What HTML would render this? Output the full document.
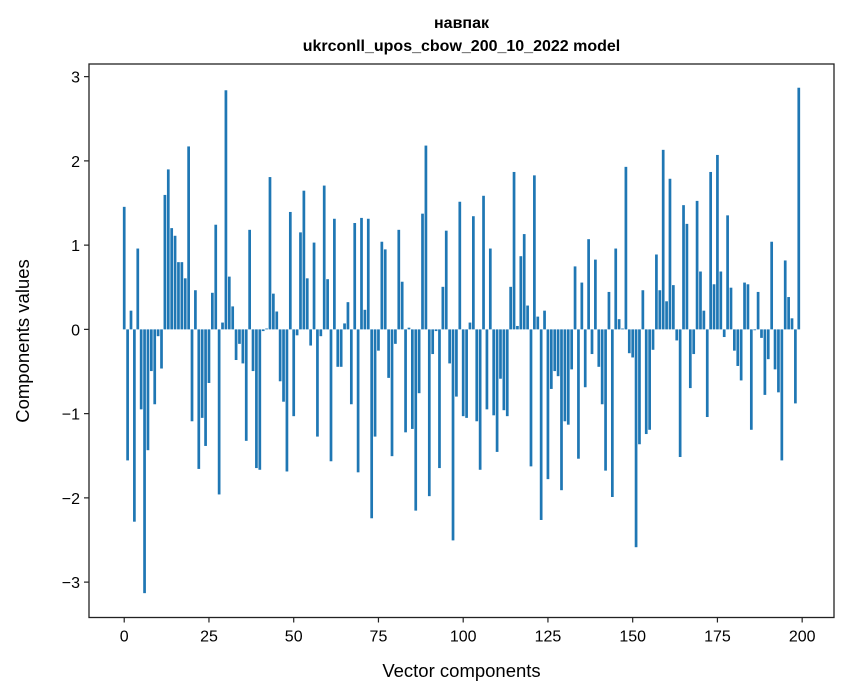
<!DOCTYPE html>
<html><head><meta charset="utf-8"><style>
body{margin:0;background:#fff;}
svg{display:block;font-family:"Liberation Sans","DejaVu Sans",sans-serif;}
</style></head><body>
<svg id="chart" width="847" height="696" viewBox="0 0 847 696" xmlns="http://www.w3.org/2000/svg">
<rect width="847" height="696" fill="#fff"/>
<text x="461.5" y="28" text-anchor="middle" font-size="16" font-weight="bold">навпак</text>
<text x="461.5" y="51" text-anchor="middle" font-size="16" font-weight="bold">ukrconll_upos_cbow_200_10_2022 model</text>
<g id="bars"></g>
<g id="xticks"></g>
<g id="yticks"></g>
<rect x="89" y="64" width="745" height="553.5" fill="none" stroke="#222" stroke-width="1.3"/>
<text x="461.5" y="677" text-anchor="middle" font-size="18.5">Vector components</text>
<text x="0" y="0" transform="translate(29,341) rotate(-90)" text-anchor="middle" font-size="18.5">Components values</text>
</svg>
<script>
const values = [1.44,-1.54,0.22,-2.26,0.95,-0.94,-3.10,-1.42,-0.49,-0.88,
-0.08,-0.46,1.58,1.88,1.19,1.10,0.79,0.79,0.60,2.15,
-1.08,0.46,-1.64,-1.04,-1.37,-0.63,0.43,1.23,-1.94,0.08,
2.81,0.62,0.27,-0.36,-0.17,-0.40,-1.31,1.17,-0.49,-1.63,
-1.65,-0.02,0.01,1.79,0.42,0.21,-0.61,-0.85,-1.67,1.38,
-1.02,-0.07,1.14,1.63,0.60,-0.19,1.02,-1.26,-0.08,1.69,
0.59,-1.55,1.30,-0.44,-0.44,0.07,0.32,-0.88,1.25,-1.68,
1.31,0.23,1.30,-2.22,-1.26,-0.25,1.03,0.94,-0.57,-1.49,
-0.17,1.17,0.56,-1.21,0.02,-1.17,-2.13,-0.75,1.36,2.16,
-1.96,-0.29,-0.02,-1.63,0.50,1.16,-0.40,-2.48,-0.79,1.50,
-1.02,-1.04,0.08,1.33,-1.08,-1.65,1.57,-0.94,0.95,-1.01,
-1.44,-0.58,-0.95,-1.02,0.50,1.85,0.04,0.86,1.12,0.28,
-1.61,1.81,0.15,-2.24,0.22,-1.76,-0.70,-0.49,-0.55,-1.89,
-1.08,-1.12,-0.47,0.74,-1.52,0.55,-0.68,1.06,-0.29,0.82,
-0.44,-0.88,-1.66,0.44,-1.97,0.95,0.12,0.01,1.91,-0.28,
-0.33,-2.56,-1.35,0.46,-1.23,-1.18,-0.24,0.88,0.46,2.11,
0.33,1.77,0.52,-0.13,-1.50,1.46,1.24,-0.69,-0.29,1.51,
0.68,0.22,-1.03,1.85,0.53,2.05,0.68,-0.09,1.34,0.49,
-0.25,-0.43,-0.60,0.55,0.53,-1.18,-0.01,0.44,-0.10,-0.77,
-0.35,1.03,-0.47,-0.74,-1.54,0.81,0.38,0.13,-0.87,2.84];
const xTickLabels = [0,25,50,75,100,125,150,175,200];
const yTickLabels = [-3,-2,-1,0,1,2,3];
const NS = "http://www.w3.org/2000/svg";
const X0 = 89, X1 = 834, Y0 = 64, Y1 = 617.5;
const xMin = -10.39, xMax = 209.39;
const yMin = -3.42, yMax = 3.15;
function xs(v){ return X0 + (v - xMin) / (xMax - xMin) * (X1 - X0); }
function ys(v){ return Y1 - (v - yMin) / (yMax - yMin) * (Y1 - Y0); }
const bars = document.getElementById('bars');
values.forEach(function(v, i){
  const r = document.createElementNS(NS, 'rect');
  const vv = v * 1.01;
  const xa = xs(i - 0.4), xb = xs(i + 0.4);
  const ya = ys(Math.max(vv, 0)), yb = ys(Math.min(vv, 0));
  r.setAttribute('x', xa); r.setAttribute('width', xb - xa);
  r.setAttribute('y', ya); r.setAttribute('height', Math.max(yb - ya, 0.3));
  r.setAttribute('fill', '#1f77b4');
  
  
  bars.appendChild(r);
});
const xt = document.getElementById('xticks');
xTickLabels.forEach(function(t){
  const x = xs(t);
  const l = document.createElementNS(NS, 'line');
  l.setAttribute('x1', x); l.setAttribute('x2', x);
  l.setAttribute('y1', Y1); l.setAttribute('y2', Y1 + 5);
  l.setAttribute('stroke', '#222'); l.setAttribute('stroke-width', '1.2');
  
  
  xt.appendChild(l);
  const tx = document.createElementNS(NS, 'text');
  tx.setAttribute('x', x); tx.setAttribute('y', Y1 + 24);
  tx.setAttribute('text-anchor', 'middle'); tx.setAttribute('font-size', '16');
  tx.textContent = String(t);
  
  
  xt.appendChild(tx);
});
const yt = document.getElementById('yticks');
yTickLabels.forEach(function(t){
  const y = ys(t);
  const l = document.createElementNS(NS, 'line');
  l.setAttribute('x1', X0 - 5); l.setAttribute('x2', X0);
  l.setAttribute('y1', y); l.setAttribute('y2', y);
  l.setAttribute('stroke', '#222'); l.setAttribute('stroke-width', '1.2');
  
  
  yt.appendChild(l);
  const tx = document.createElementNS(NS, 'text');
  tx.setAttribute('x', X0 - 9); tx.setAttribute('y', y + 6);
  tx.setAttribute('text-anchor', 'end'); tx.setAttribute('font-size', '16');
  tx.textContent = t < 0 ? '\u2212' + Math.abs(t) : String(t);
  
  
  yt.appendChild(tx);
});
</script>
</body></html>
